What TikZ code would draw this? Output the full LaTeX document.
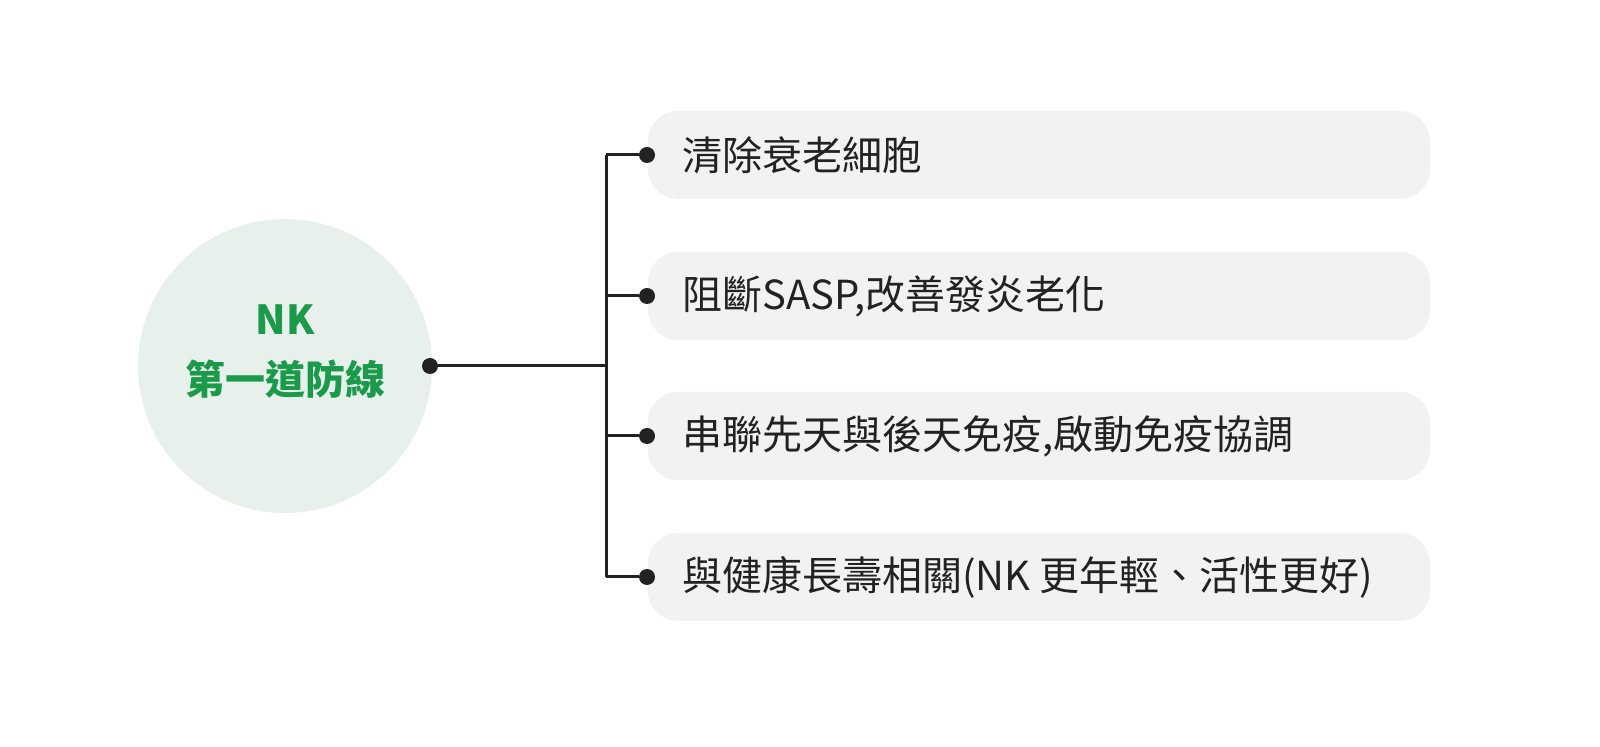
\documentclass[tikz,border=0pt]{standalone}
\usepackage{fontspec}
\setmainfont{Noto Sans CJK TC}
\definecolor{boxg}{HTML}{F2F2F2}
\definecolor{circg}{HTML}{E8F0EC}
\definecolor{titleg}{HTML}{1A9A4A}
\definecolor{ink}{HTML}{222222}
\begin{document}
\begin{tikzpicture}[x=0.5pt,y=-0.5pt,
  item/.style={fill=boxg,rounded corners=15pt,minimum width=391pt,minimum height=44pt,draw=none},
  lbl/.style={anchor=west,font=\fontsize{20pt}{24pt}\selectfont,text=ink,inner sep=0},
  dot/.style={circle,fill=ink,inner sep=0,minimum size=8pt},
  ln/.style={draw=ink,line width=1.5pt}]
\useasboundingbox (0,0) rectangle (1600,747);
\node[circle,fill=circg,minimum size=294*0.5pt,inner sep=0] (c) at (285,366) {};
\node[align=center,text=titleg,font=\fontsize{20pt}{30pt}\selectfont\bfseries] (t) at (285,352) {NK\\第一道防線};
\node[dot] (d0) at (430,366) {};
\coordinate (j) at (606,366);
\foreach \i/\y/\txt in {1/155/清除衰老細胞,2/296/阻斷SASP{,}改善發炎老化,3/436/串聯先天與後天免疫{,}啟動免疫協調,4/577/與健康長壽相關(NK 更年輕、活性更好)}{
  \node[item] (b\i) at (1039,\y) {};
  \node[lbl] (l\i) at (682,\y) {\txt};
  \node[dot] (d\i) at (647,\y) {};
  \coordinate (k\i) at (606,\y);
  \draw[ln] (k\i) -- (d\i);
}
\draw[ln] (k1) -- (k4);
\draw[ln] (d0) -- (j);
\end{tikzpicture}
\end{document}
